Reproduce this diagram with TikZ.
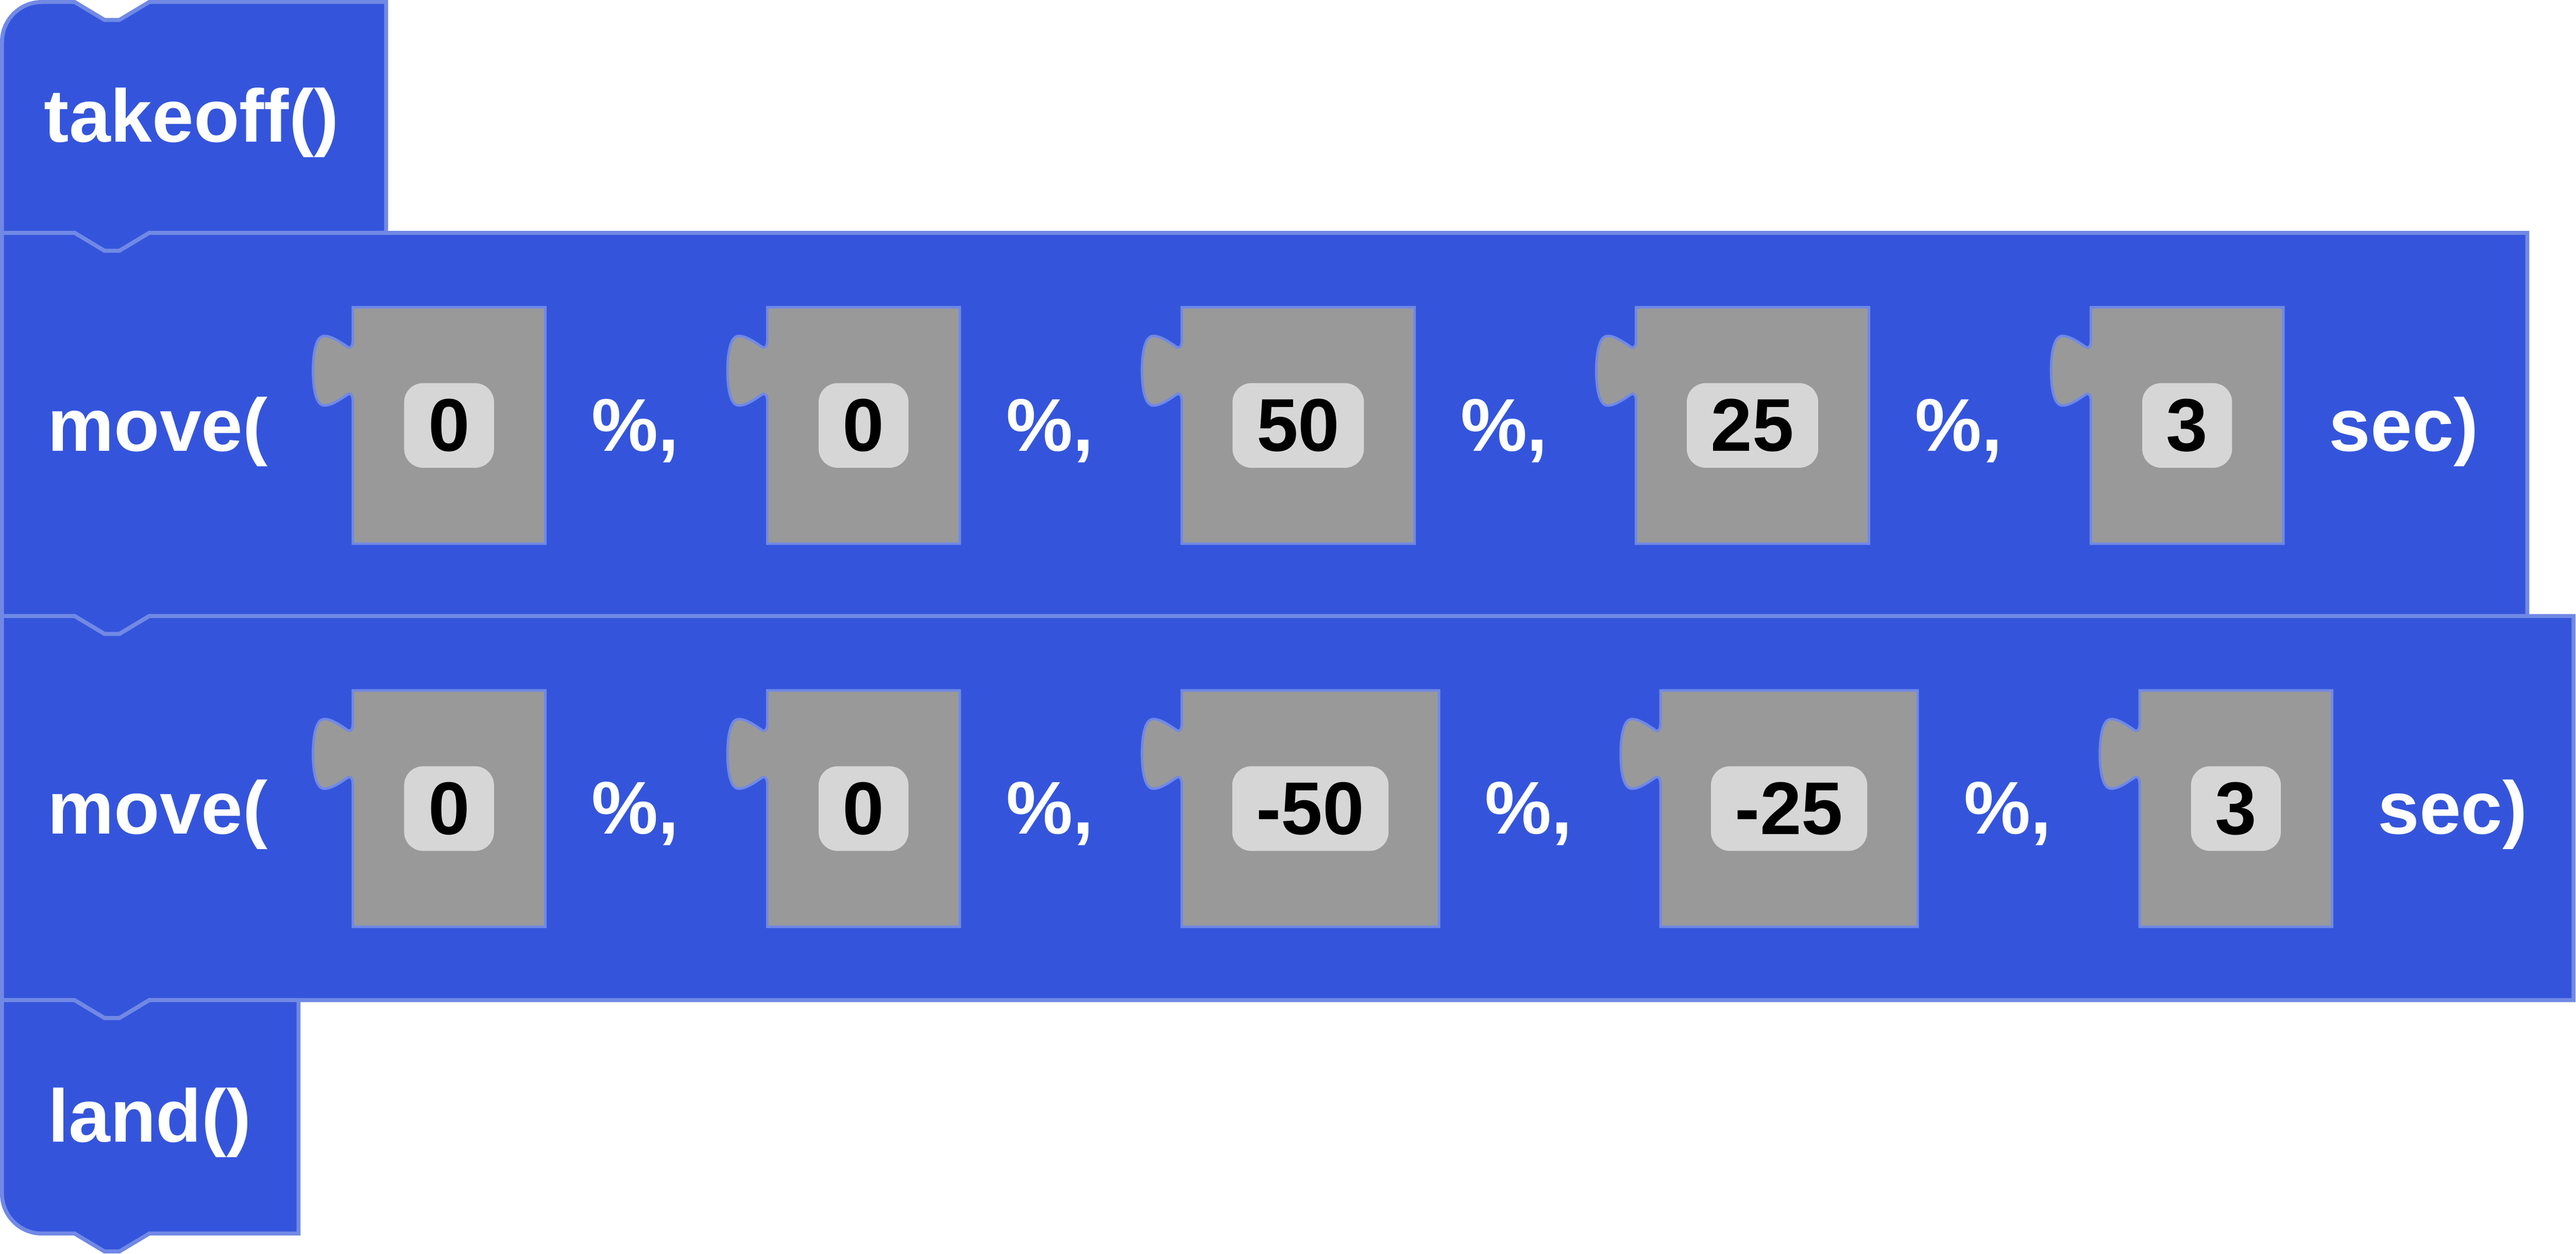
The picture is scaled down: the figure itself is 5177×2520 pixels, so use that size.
\documentclass[tikz,border=0pt]{standalone}
\usepackage{fontspec}
\setmainfont{Liberation Sans}
\usepackage{tikz}

\definecolor{blockblue}{HTML}{3455DB}
\definecolor{blockedge}{HTML}{7189E5}
\definecolor{slotgray}{HTML}{999999}
\definecolor{valgray}{HTML}{D6D6D6}

\newcommand{\blockfont}{\fontsize{42.7pt}{51pt}\selectfont\bfseries}

\tikzset{
  blockshape/.style={fill=blockblue, draw=blockedge, line width=0.08cm},
  slotshape/.style={fill=slotgray, draw=blockedge, line width=0.05cm},
  valbox/.style={fill=valgray, rounded corners=0.38cm, minimum height=1.7cm, inner xsep=0.485cm, inner ysep=0pt, text=black, font=\blockfont},
  blocktext/.style={text=white, font=\blockfont, inner sep=0pt, anchor=base}
}

\newcommand{\inslot}[3]{%
\begin{scope}[shift={(#1,#2)}]
\draw[slotshape] (0,0) -- (#3,0) -- (#3,475) -- (0,475) -- (0,188)
  .. controls (0,178) and (-4,171) .. (-10,175)
  .. controls (-22,183) and (-45,200) .. (-60,197)
  .. controls (-75,194) and (-80,160) .. (-80,127.5)
  .. controls (-80,95) and (-75,61) .. (-60,58)
  .. controls (-45,55) and (-22,72) .. (-10,80)
  .. controls (-4,84) and (0,77) .. (0,67) -- cycle;
\end{scope}}

\begin{document}
\begin{tikzpicture}[x=0.01cm, y=-0.01cm]
\useasboundingbox (0,0) rectangle (5177,2520);

\draw[blockshape] (4,468) -- (4,84) .. controls (4,40) and (40,4) .. (84,4) -- (150,4) -- (210,40) -- (240,40) -- (300,4) -- (776,4) -- (776,468) -- (300,468) -- (240,504) -- (210,504) -- (150,468) -- cycle;
\draw[blockshape] (4,468) -- (150,468) -- (210,504) -- (240,504) -- (300,468) -- (5079,468) -- (5079,1238) -- (300,1238) -- (240,1274) -- (210,1274) -- (150,1238) -- (4,1238) -- cycle;
\draw[blockshape] (4,1238) -- (150,1238) -- (210,1274) -- (240,1274) -- (300,1238) -- (5172,1238) -- (5172,2010) -- (300,2010) -- (240,2046) -- (210,2046) -- (150,2010) -- (4,2010) -- cycle;
\draw[blockshape] (4,2010) -- (150,2010) -- (210,2046) -- (240,2046) -- (300,2010) -- (600,2010) -- (600,2479) -- (300,2479) -- (240,2515) -- (210,2515) -- (150,2479) -- (84,2479) .. controls (40,2479) and (4,2443) .. (4,2399) -- cycle;

\node[blocktext] (takeoff) at (385,285) {takeoff()};
\node[blocktext] (land) at (301,2295) {land()};

% first move
\inslot{709}{617.5}{387}
\inslot{1542}{617.5}{387}
\inslot{2375}{617.5}{468}
\inslot{3288}{617.5}{468}
\inslot{4202}{617.5}{387}

\node[valbox] (roll1) at (902.5,855) {0};
\node[valbox] (pitch1) at (1735.5,855) {0};
\node[valbox] (yaw1) at (2609,855) {50};
\node[valbox] (throttle1) at (3522,855) {25};
\node[valbox] (time1) at (4395.5,855) {3};

\node[blocktext] (move1) at (317,906) {move(};
\node[blocktext] (pcta1) at (1277,906) {\%,};
\node[blocktext] (pctb1) at (2110,906) {\%,};
\node[blocktext] (pctc1) at (3023,906) {\%,};
\node[blocktext] (pctd1) at (3937,906) {\%,};
\node[blocktext] (sec1) at (4831,906) {sec)};

% second move
\inslot{709}{1387.5}{387}
\inslot{1542}{1387.5}{387}
\inslot{2375}{1387.5}{517}
\inslot{3337}{1387.5}{517}
\inslot{4300}{1387.5}{387}

\node[valbox] (roll2) at (902.5,1625) {0};
\node[valbox] (pitch2) at (1735.5,1625) {0};
\node[valbox] (yaw2) at (2633.5,1625) {-50};
\node[valbox] (throttle2) at (3595.5,1625) {-25};
\node[valbox] (time2) at (4493.5,1625) {3};

\node[blocktext] (move2) at (317,1676) {move(};
\node[blocktext] (pcta2) at (1277,1676) {\%,};
\node[blocktext] (pctb2) at (2110,1676) {\%,};
\node[blocktext] (pctc2) at (3072,1676) {\%,};
\node[blocktext] (pctd2) at (4035,1676) {\%,};
\node[blocktext] (sec2) at (4929,1676) {sec)};
\end{tikzpicture}
\end{document}
